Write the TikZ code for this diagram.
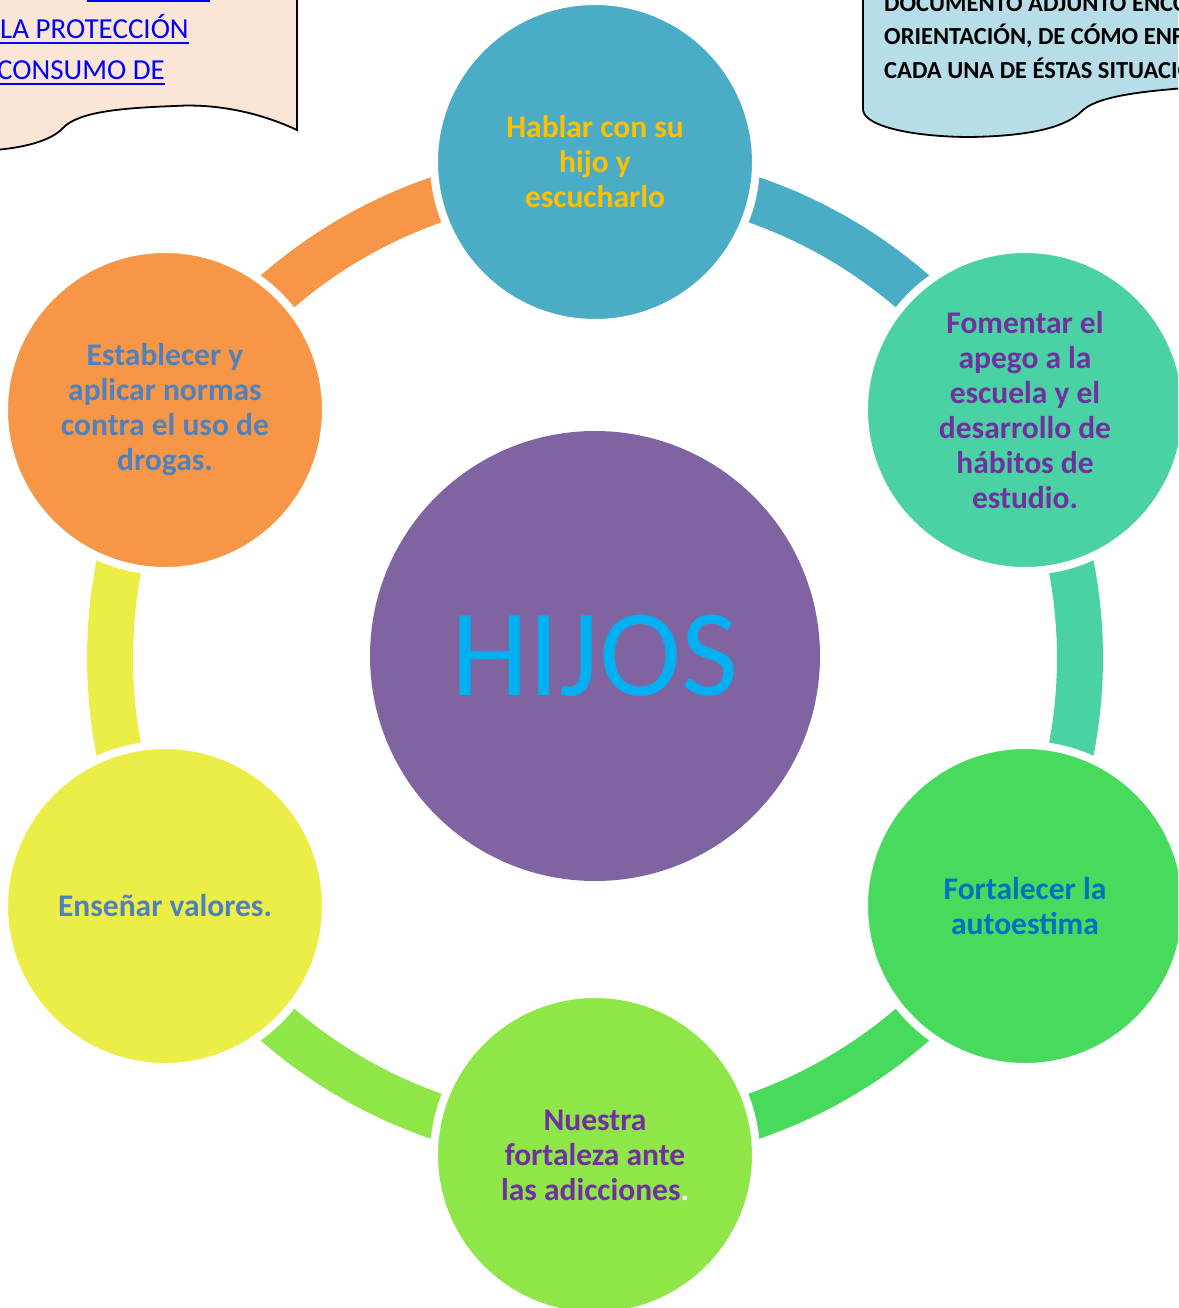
\documentclass[tikz,border=0pt]{standalone}
\usepackage{fontspec}
\setmainfont{Carlito}
\definecolor{cBlue}{HTML}{4BACC6}
\definecolor{cTeal}{HTML}{4AD1A4}
\definecolor{cGreen}{HTML}{47DA5C}
\definecolor{cLime}{HTML}{8EE648}
\definecolor{cYellow}{HTML}{EDED47}
\definecolor{cOrange}{HTML}{F79646}
\definecolor{cPurple}{HTML}{8064A2}
\definecolor{cCyan}{HTML}{00B0F0}
\definecolor{tGold}{HTML}{FFC000}
\definecolor{tPurple}{HTML}{7030A0}
\definecolor{tBlue}{HTML}{0070C0}
\definecolor{tSteel}{HTML}{4F81BD}
\definecolor{peach}{HTML}{FBE5D6}
\definecolor{paleblue}{HTML}{B7DEE8}
\definecolor{linkblue}{HTML}{0000FF}
\begin{document}
\begin{tikzpicture}[x=1pt,y=-1pt,
  sat/.style={circle, minimum size=322pt, inner sep=0pt, outer sep=0pt,
    draw=white, line width=8pt, align=center,
    font=\bfseries\fontsize{31.5}{35}\selectfont},
  band/.style={line width=46pt},
  callout/.style={draw=black, line width=1.8pt},
  linktext/.style={inner sep=0pt, anchor=base west, text=linkblue,
    font=\fontsize{29}{34}\selectfont},
  notetext/.style={inner sep=0pt, anchor=base west, text=black,
    font=\bfseries\fontsize{24.5}{28}\selectfont}]
\useasboundingbox (0,0) rectangle (1178,1308);
\clip (0,0) rectangle (1178,1308);
% callouts
\path[callout, fill=peach] (-5,-5) -- (297,-5) -- (297,130)
  .. controls (250,108) and (205,104) .. (175,106)
  .. controls (120,108) and (78,112) .. (63,128)
  .. controls (50,142) and (20,148) .. (-5,150) -- cycle;
\path[callout, fill=paleblue] (1185,-5) -- (863,-5) -- (863,110)
  .. controls (865,128) and (920,137) .. (970,137)
  .. controls (1035,136) and (1068,126) .. (1083,110)
  .. controls (1100,95) and (1150,91) .. (1185,88) -- cycle;
\draw[linkblue, line width=2pt] (87,1) -- (210,1);
\node[linktext] (lp) at (0,39) {LA PROTECCIÓN};
\node[linktext] (lc) at (-3,80) {CONSUMO DE};
\draw[linkblue, line width=2pt] ([yshift=-4pt]lp.base west) -- ([yshift=-4pt]lp.base east);
\draw[linkblue, line width=2pt] ([yshift=-4pt]lc.base west) -- ([yshift=-4pt]lc.base east);
\node[notetext] (d1) at (884,12) {DOCUMENTO ADJUNTO ENCONTRARÁ};
\node[notetext] (d2) at (884,45) {ORIENTACIÓN, DE CÓMO ENFRENTAR};
\node[notetext] (d3) at (884,79) {CADA UNA DE ÉSTAS SITUACIONES};
% ring bands
\draw[band, cBlue] plot[domain=-90:-30, samples=60] ({595+485*cos(\x)},{658+485*sin(\x)});
\draw[band, cTeal] plot[domain=-30:30, samples=60] ({595+485*cos(\x)},{658+485*sin(\x)});
\draw[band, cGreen] plot[domain=30:90, samples=60] ({595+485*cos(\x)},{658+485*sin(\x)});
\draw[band, cLime] plot[domain=90:150, samples=60] ({595+485*cos(\x)},{658+485*sin(\x)});
\draw[band, cYellow] plot[domain=150:210, samples=60] ({595+485*cos(\x)},{658+485*sin(\x)});
\draw[band, cOrange] plot[domain=210:270, samples=60] ({595+485*cos(\x)},{658+485*sin(\x)});
% circles
\node[circle, minimum size=450pt, inner sep=0pt, fill=cPurple, text=cCyan,
  font=\fontsize{124}{140}\selectfont] (hub) at (595,656) {HIJOS};
\node[sat, fill=cBlue, text=tGold] (n1) at (595,162) {Hablar con su\\hijo y\\escucharlo};
\node[sat, fill=cTeal, text=tPurple] (n2) at (1025,410) {Fomentar el\\apego a la\\escuela y el\\desarrollo de\\hábitos de\\estudio.};
\node[sat, fill=cGreen, text=tBlue] (n3) at (1025,906) {Fortalecer la\\autoestima};
\node[sat, fill=cLime, text=tPurple] (n4) at (595,1155) {Nuestra\\fortaleza ante\\las adicciones\textcolor{white}{.}};
\node[sat, fill=cYellow, text=tSteel] (n5) at (165,906) {Enseñar valores.};
\node[sat, fill=cOrange, text=tSteel] (n6) at (165,410) {Establecer y\\aplicar normas\\contra el uso de\\drogas.};
\end{tikzpicture}
\end{document}
